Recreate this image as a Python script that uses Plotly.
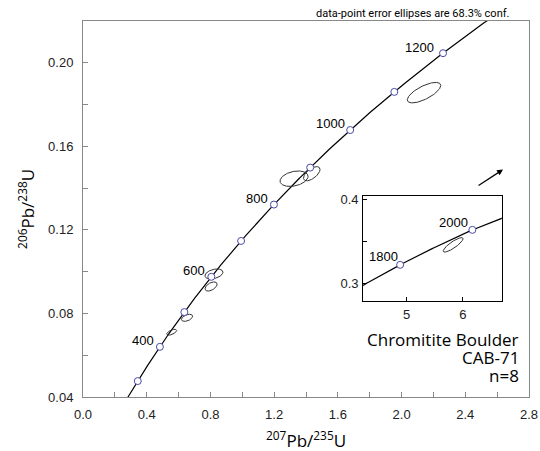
import numpy as np
import plotly.graph_objects as go

# ---- data ----
L238 = 1.55125e-10
L235 = 9.8485e-10
marker_ages_main = [300, 400, 500, 600, 700, 800, 900, 1000, 1100, 1200]
marker_ages_inset = [1800, 2000]
label_ages_main = ["400", "600", "800", "1000", "1200"]
label_x_main = [0.378, 0.699, 1.092, 1.551, 2.112]
label_y_main = [0.0670, 0.1005, 0.1350, 0.1707, 0.2074]
label_ages_inset = ["1800", "2000"]
label_x_inset = [4.59, 5.83]
label_y_inset = [0.3316, 0.3730]

# error ellipses: centre, half-width (x), half-height (y), error correlation
ell_x = [2.141, 1.325, 1.436, 0.822, 0.804, 0.653, 0.557]
ell_y = [0.1857, 0.1445, 0.1469, 0.0989, 0.0929, 0.0779, 0.0710]
ell_hw = [0.105, 0.088, 0.052, 0.0565, 0.038, 0.035, 0.031]
ell_hh = [0.0049, 0.0037, 0.0034, 0.0024, 0.0022, 0.0017, 0.0014]
ell_rho = [0.70, 0.30, 0.60, 0.35, 0.50, 0.45, 0.60]

inset_ell_x = [5.827]
inset_ell_y = [0.3459]
inset_ell_hw = [0.176]
inset_ell_hh = [0.0086]
inset_ell_rho = [0.85]

x_ticks_main = [0.0, 0.2, 0.4, 0.6, 0.8, 1.0, 1.2, 1.4, 1.6, 1.8, 2.0, 2.2, 2.4, 2.6, 2.8]
x_ticktext_main = ["0.0", "", "0.4", "", "0.8", "", "1.2", "", "1.6", "", "2.0", "", "2.4", "", "2.8"]
y_ticks_main = [0.04, 0.06, 0.08, 0.10, 0.12, 0.14, 0.16, 0.18, 0.20, 0.22]
y_ticktext_main = ["0.04", "", "0.08", "", "0.12", "", "0.16", "", "0.20", ""]


def conc(t_ma):
    t = np.asarray(t_ma, dtype=float) * 1e6
    return np.exp(L235 * t) - 1, np.exp(L238 * t) - 1


def ellipse(cx, cy, hw, hh, rho):
    t = np.linspace(0, 2 * np.pi, 120)
    x = cx + hw * np.cos(t)
    y = cy + hh * (rho * np.cos(t) + np.sqrt(1 - rho ** 2) * np.sin(t))
    return x, y


fig = go.Figure()

# main concordia
cx_, cy_ = conc(np.linspace(150, 1400, 400))
fig.add_trace(go.Scatter(x=cx_, y=cy_, mode="lines", line=dict(color="black", width=1.2),
                         hoverinfo="skip", showlegend=False))
for i in range(len(ell_x)):
    ex, ey = ellipse(ell_x[i], ell_y[i], ell_hw[i], ell_hh[i], ell_rho[i])
    fig.add_trace(go.Scatter(x=ex, y=ey, mode="lines", line=dict(color="#333333", width=1),
                             showlegend=False))
mx, my = conc(marker_ages_main)
fig.add_trace(go.Scatter(x=mx, y=my, mode="markers",
                         marker=dict(symbol="circle", size=7, color="white",
                                     line=dict(color="#4a4aa8", width=1)),
                         showlegend=False))

# inset concordia
ix_, iy_ = conc(np.linspace(1600, 2300, 300))
fig.add_trace(go.Scatter(x=ix_, y=iy_, mode="lines", line=dict(color="black", width=1.2),
                         xaxis="x2", yaxis="y2", showlegend=False))
for i in range(len(inset_ell_x)):
    ex, ey = ellipse(inset_ell_x[i], inset_ell_y[i], inset_ell_hw[i], inset_ell_hh[i], inset_ell_rho[i])
    fig.add_trace(go.Scatter(x=ex, y=ey, mode="lines", line=dict(color="#333333", width=1),
                             xaxis="x2", yaxis="y2", showlegend=False))
imx, imy = conc(marker_ages_inset)
fig.add_trace(go.Scatter(x=imx, y=imy, mode="markers",
                         marker=dict(symbol="circle", size=7, color="white",
                                     line=dict(color="#4a4aa8", width=1)),
                         xaxis="x2", yaxis="y2", showlegend=False))

ann = []
for t, x, y in zip(label_ages_main, label_x_main, label_y_main):
    ann.append(dict(text=t, x=x, y=y, xref="x", yref="y", showarrow=False,
                    font=dict(family="Liberation Sans, Arial", size=13, color="black")))
for t, x, y in zip(label_ages_inset, label_x_inset, label_y_inset):
    ann.append(dict(text=t, x=x, y=y, xref="x2", yref="y2", showarrow=False,
                    font=dict(family="Liberation Sans, Arial", size=13, color="black")))

# arrow pointing to inset origin
ann.append(dict(text="", x=2.637, y=0.1489, xref="x", yref="y", showarrow=True,
                ax=-26, ay=17, arrowhead=2, arrowsize=1, arrowwidth=1.2, arrowcolor="black"))

for txt, yy in [("Chromitite Boulder", 0.1527), ("CAB-71", 0.1049), ("n=8", 0.0571)]:
    ann.append(dict(text=txt, x=0.982, y=yy, xref="paper", yref="paper", xanchor="right",
                    yanchor="middle", showarrow=False,
                    font=dict(family="Open Sans", size=17, color="black")))

ann.append(dict(text="data-point error ellipses are 68.3% conf.", x=0.962, y=1.0205,
                xref="paper", yref="paper", xanchor="right", yanchor="middle", showarrow=False,
                font=dict(family="Roboto", size=11, color="black")))

ann.append(dict(text="<sup>207</sup>Pb/<sup>235</sup>U", x=0.5, y=-0.112, xref="paper", yref="paper",
                xanchor="center", yanchor="middle", showarrow=False,
                font=dict(family="Open Sans", size=17, color="black")))
ann.append(dict(text="<sup>206</sup>Pb/<sup>238</sup>U", x=-0.128, y=0.5, xref="paper", yref="paper",
                xanchor="center", yanchor="middle", showarrow=False, textangle=-90,
                font=dict(family="Open Sans", size=17, color="black")))

tickfont = dict(family="Liberation Sans, Arial", size=13, color="#222222")

fig.update_layout(
    width=540, height=451,
    margin=dict(l=83, r=11, t=21, b=54, autoexpand=False),
    paper_bgcolor="white", plot_bgcolor="white",
    showlegend=False,
    xaxis=dict(range=[0, 2.8], tickvals=x_ticks_main, ticktext=x_ticktext_main,
               ticks="inside", ticklen=5, tickcolor="#888888", showline=True, linecolor="#888888",
               linewidth=1, mirror=True, showgrid=False, zeroline=False, tickfont=tickfont,
               ticklabelstandoff=5, automargin=False),
    yaxis=dict(range=[0.04, 0.22], tickvals=y_ticks_main, ticktext=y_ticktext_main,
               ticks="inside", ticklen=5, tickcolor="#888888", showline=True, linecolor="#888888",
               linewidth=1, mirror=True, showgrid=False, zeroline=False, tickfont=tickfont,
               ticklabelstandoff=6, automargin=False),
    xaxis2=dict(domain=[0.628, 0.939], anchor="y2", range=[4.23, 6.69], tickvals=[5, 6],
                ticktext=["5", "6"], ticks="inside", ticklen=4, tickcolor="black",
                showline=True, linecolor="black", linewidth=1, mirror=True, showgrid=False,
                zeroline=False, tickfont=tickfont, ticklabelstandoff=1, automargin=False),
    yaxis2=dict(domain=[0.254, 0.535], anchor="x2", range=[0.2784, 0.4043],
                tickvals=[0.3, 0.35, 0.4], ticktext=["0.3", "", "0.4"], ticks="inside",
                ticklen=4, tickcolor="black", showline=True, linecolor="black", linewidth=1,
                mirror=True, showgrid=False, zeroline=False, tickfont=tickfont,
                ticklabelstandoff=1, automargin=False),
    annotations=ann,
)

fig.write_html("out.html", config={"displayModeBar": False},
               post_script="document.body.style.margin='0';")
